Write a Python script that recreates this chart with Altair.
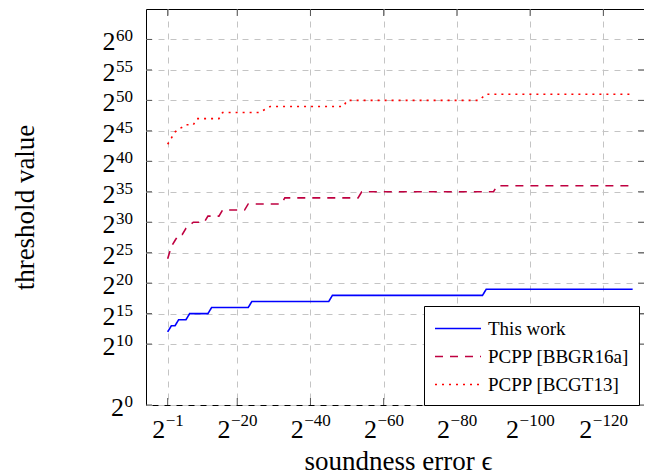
import altair as alt
import pandas as pd

# ---- data (exponents: x = -log2(eps), y = log2(threshold)) ----
series_names = ["This work", "PCPP [BBGR16a]", "PCPP [BCGT13]"]
series_colors = ["#0000ff", "#bf0040", "#ff0000"]

this_work_x = [1, 2, 3, 4, 6, 7, 12, 13, 23, 24, 45, 46, 87, 88, 128]
this_work_y = [12, 13, 13, 14, 14, 15, 15, 16, 16, 17, 17, 18, 18, 19, 19]

bbgr_x = [1, 2, 3, 4, 5, 6, 8, 11, 12, 15, 16, 22, 23, 32, 33, 53, 54, 90, 91, 128]
bbgr_y = [24, 26, 27, 28, 28, 29, 30, 30, 31, 31, 32, 32, 33, 33, 34, 34, 35, 35, 36, 36]

bcgt_x = [1, 2, 3, 4, 5, 6, 8, 9, 15, 16, 26, 29, 49, 50, 86, 88, 128]
bcgt_y = [42.8, 43.8, 44.8, 45.3, 45.6, 46, 46, 47, 47, 48, 48, 49, 49, 50, 50, 51, 51]

x_ticks = [1, 20, 40, 60, 80, 100, 120]
x_tick_exps = ["−1", "−20", "−40", "−60", "−80", "−100", "−120"]
y_ticks = [0, 10, 15, 20, 25, 30, 35, 40, 45, 50, 55, 60]
y_tick_exps = ["0", "10", "15", "20", "25", "30", "35", "40", "45", "50", "55", "60"]

# ---- build tables ----
rows = []
for name, xs, ys in zip(series_names, [this_work_x, bbgr_x, bcgt_x], [this_work_y, bbgr_y, bcgt_y]):
    for i, (a, b) in enumerate(zip(xs, ys)):
        rows.append({"series": name, "x": a, "y": b, "order": i})
df = pd.DataFrame(rows)
xt = pd.DataFrame({"x": x_ticks, "t": x_tick_exps})
yt = pd.DataFrame({"y": y_ticks, "t": y_tick_exps})

FONT = "Liberation Serif"
BASE_FS, EXP_FS = 26, 17
W, H = 498, 396
x_scale = alt.Scale(domain=[-4.92, 131.1], nice=False, zero=False)
y_scale = alt.Scale(domain=[0, 65], nice=False, zero=False)


def exp_width(s):
    return sum(0.564 * EXP_FS if c == "−" else 0.5 * EXP_FS for c in s)


legend = alt.Legend(
    title=None, orient="none", legendX=278, legendY=297,
    labelFont=FONT, labelFontSize=19, labelColor="black",
    symbolType="M-1,0H3", symbolSize=529, symbolStrokeWidth=1.6,
    strokeColor="black", fillColor="white", padding=10, rowPadding=5,
    labelOffset=29, cornerRadius=0,
)

x_axis = alt.Axis(
    values=x_ticks, labels=False, ticks=False, domain=False,
    grid=True, gridDash=[6, 6], gridColor="#c4c4c4",
    title="soundness error ϵ", titleFont=FONT, titleFontSize=27, titleFontWeight="normal",
    titleColor="black", titleX=252, titleY=64, titleBaseline="alphabetic", titleAlign="center",
)
y_axis = alt.Axis(
    values=y_ticks, labels=False, ticks=False, domain=False,
    grid=True, gridDash=[6, 6], gridColor="#c4c4c4",
    title="threshold value", titleFont=FONT, titleFontSize=27, titleFontWeight="normal",
    titleColor="black", titleX=-113, titleY=H / 2, titleAngle=-90,
    titleBaseline="alphabetic", titleAlign="center",
)
X = alt.X("x:Q", scale=x_scale, axis=x_axis)
Y = alt.Y("y:Q", scale=y_scale, axis=y_axis)

lines = alt.Chart(df).mark_line(strokeWidth=1.6, strokeJoin="miter").encode(
    x=X, y=Y,
    color=alt.Color("series:N", scale=alt.Scale(domain=series_names, range=series_colors), legend=legend),
    strokeDash=alt.StrokeDash("series:N", scale=alt.Scale(domain=series_names, range=[[1, 0], [8, 7], [2, 5]]), legend=legend),
    order="order:Q",
)

tick_color = "#555555"
layers = [lines]
layers.append(alt.Chart(yt).mark_rule(color=tick_color).encode(y=Y, x=alt.value(0), x2=alt.value(6)))
layers.append(alt.Chart(yt).mark_rule(color=tick_color).encode(y=Y, x=alt.value(W - 6), x2=alt.value(W)))
layers.append(alt.Chart(xt).mark_rule(color=tick_color).encode(x=X, y=alt.value(H - 7), y2=alt.value(H)))
layers.append(alt.Chart(xt).mark_rule(color=tick_color).encode(x=X, y=alt.value(0), y2=alt.value(7)))

# x tick labels: "2" with a superscript exponent, centred on the tick
base_w = 0.5 * BASE_FS
for n in sorted(set(len(s) for s in x_tick_exps)):
    sub = xt[xt["t"].str.len() == n]
    e = exp_width(sub["t"].iloc[0])
    d = (base_w - e) / 2
    layers.append(alt.Chart(sub).mark_text(
        text="2", align="right", baseline="alphabetic", dx=d, dy=33,
        font=FONT, fontSize=BASE_FS, color="black").encode(x=X, y=alt.value(H)))
    layers.append(alt.Chart(sub).mark_text(
        align="left", baseline="alphabetic", dx=d + 0.5, dy=21,
        font=FONT, fontSize=EXP_FS, color="black").encode(x=X, y=alt.value(H), text="t:N"))

# y tick labels: right-aligned against the axis
for n in sorted(set(len(s) for s in y_tick_exps)):
    sub = yt[yt["t"].str.len() == n]
    e = exp_width(sub["t"].iloc[0])
    layers.append(alt.Chart(sub).mark_text(
        text="2", align="right", baseline="alphabetic", dy=11,
        font=FONT, fontSize=BASE_FS, color="black").encode(y=Y, x=alt.value(-13 - e - 0.5)))
    layers.append(alt.Chart(sub).mark_text(
        align="right", baseline="alphabetic", dy=2,
        font=FONT, fontSize=EXP_FS, color="black").encode(y=Y, x=alt.value(-13), text="t:N"))

chart = alt.layer(*layers).properties(
    width=W, height=H, autosize="none",
    padding={"left": 138, "top": 1, "right": 0, "bottom": 69},
    background="white",
).configure_view(stroke="black", strokeWidth=1)

chart.save("out.html", embed_options={"renderer": "svg", "actions": False})
